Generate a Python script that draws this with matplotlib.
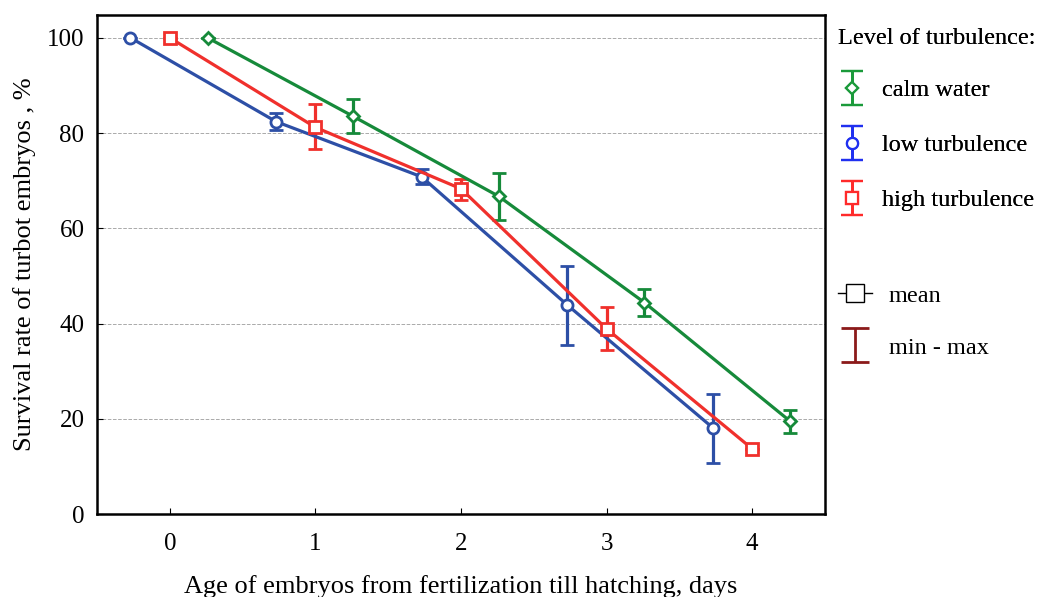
#!/usr/bin/env python3
"""Survival rate of turbot embryos under three levels of turbulence."""

import matplotlib
matplotlib.use('Agg')
from matplotlib import pyplot as plt
from matplotlib.lines import Line2D
from matplotlib.legend_handler import HandlerErrorbar
import numpy as np


DAYS = np.array([0, 1, 2, 3, 4])

# mean, min, max
CALM_MEAN = [100, 83.5, 66.7, 44.4, 19.5]
CALM_MIN = [100, 80.0, 61.7, 41.6, 17.1]
CALM_MAX = [100, 87.1, 71.6, 47.2, 21.8]

LOW_MEAN = [100, 82.4, 70.8, 43.9, 18.1]
LOW_MIN = [100, 80.7, 69.3, 35.5, 10.7]
LOW_MAX = [100, 84.3, 72.4, 52.0, 25.2]

HIGH_MEAN = [100, 81.2, 68.3, 38.9, 13.7]
HIGH_MIN = [100, 76.7, 66.0, 34.5, 13.7]
HIGH_MAX = [100, 86.1, 70.4, 43.5, 13.7]

SERIES = [
    ('low turbulence', LOW_MEAN, LOW_MIN, LOW_MAX, -0.27, 'o', '#2d4fa6', 8),
    ('high turbulence', HIGH_MEAN, HIGH_MIN, HIGH_MAX, 0.0, 's', '#f0302c', 8),
    ('calm water', CALM_MEAN, CALM_MIN, CALM_MAX, 0.26, 'D', '#168a3a', 6),
]
LEGEND_COLORS = {'calm water': '#1a9a3a', 'low turbulence': '#2030f0',
                 'high turbulence': '#ff2a2a'}


def main():
    plt.rcParams['font.family'] = 'Liberation Serif'
    fig = plt.figure(figsize=(10.46, 5.97), dpi=100)
    ax = fig.add_axes([0.0927, 0.139, 0.696, 0.836])

    proxies = {}
    for name, mean, lo, hi, off, mk, col, ms in SERIES:
        mean = np.array(mean)
        err = [mean - np.array(lo), np.array(hi) - mean]
        ax.errorbar(DAYS + off, mean, yerr=err, color=col, lw=2.3,
                    marker=mk, ms=ms, mfc='white', mec=col, mew=2,
                    capsize=5, capthick=2.3, elinewidth=2.3, zorder=3)
        lc = LEGEND_COLORS[name]
        proxies[name] = ax.errorbar([np.nan], [np.nan], yerr=[1], color=lc,
                                    ls='none', marker=mk, ms=ms, mfc='white',
                                    mec=lc, mew=1.6, capsize=8, capthick=2,
                                    elinewidth=2)

    ax.set_xlim(-0.5, 4.5)
    ax.set_ylim(0, 104.8)
    ax.set_xticks(DAYS)
    ax.set_yticks([0, 20, 40, 60, 80, 100])
    ax.tick_params(direction='in', labelsize=18, length=4)
    ax.tick_params(axis='x', pad=14)
    ax.tick_params(axis='y', pad=9)
    ax.grid(axis='y', ls='--', color='#aaaaaa', lw=0.7)
    for s in ax.spines.values():
        s.set_linewidth(1.8)

    ax.set_xlabel('Age of embryos from fertilization till hatching, days',
                  fontsize=19, labelpad=14)
    ax.set_ylabel('Survival rate of turbot embryos , %', fontsize=19,
                  labelpad=8)

    order = ['calm water', 'low turbulence', 'high turbulence']
    hmap = {type(proxies['calm water']): HandlerErrorbar(xerr_size=0.7)}
    leg1 = fig.legend([proxies[k] for k in order], order,
                      title='Level of turbulence:', loc='upper left',
                      bbox_to_anchor=(0.78, 0.99), frameon=False,
                      fontsize=17.5, title_fontsize=17.5, handlelength=1.2,
                      handletextpad=0.6, labelspacing=1.35, handler_map=hmap)
    leg1._legend_box.align = 'left'
    leg1._legend_box.sep = 22

    mean_h = Line2D([], [], color='black', lw=1, marker='s', ms=13,
                    mfc='white', mec='black')
    mm_h = ax.errorbar([np.nan], [np.nan], yerr=[1], color='#8b1a1a', ls='none',
                       elinewidth=2, capsize=10, capthick=2)
    fig.legend([mean_h, mm_h], ['mean', 'min - max'], loc='upper left',
               bbox_to_anchor=(0.78, 0.56), frameon=False, fontsize=17.5,
               handlelength=1.4, handletextpad=0.7, labelspacing=1.25,
               handler_map=hmap)
    fig.add_artist(leg1)

    fig.savefig('out.png', dpi=100)


if __name__ == '__main__':
    main()
